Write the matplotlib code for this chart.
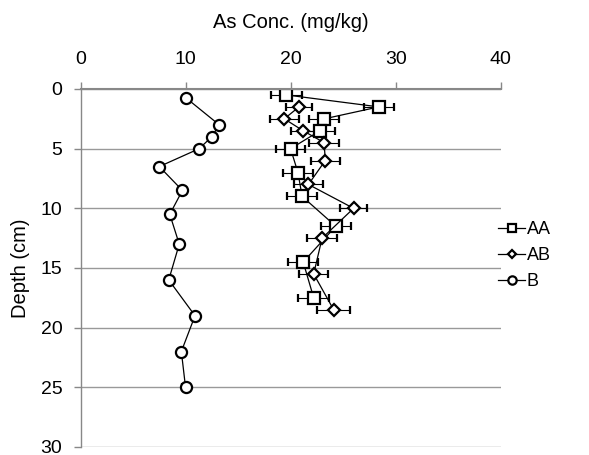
import matplotlib
matplotlib.use("Agg")
import matplotlib.pyplot as plt

plt.rcParams['font.family'] = ['Liberation Sans', 'DejaVu Sans']

# As concentration (mg/kg) vs depth (cm)
aa_depth = [0.5, 1.5, 2.5, 3.5, 5, 7, 9, 11.5, 14.5, 17.5]
aa_conc = [19.6, 28.4, 23.2, 22.8, 20.0, 20.7, 21.1, 24.3, 21.2, 22.2]
aa_err = [1.45, 1.45, 1.45, 1.45, 1.4, 1.43, 1.43, 1.43, 1.42, 1.48]

ab_depth = [1.5, 2.5, 3.5, 4.5, 6, 8, 10, 12.5, 15.5, 18.5]
ab_conc = [20.8, 19.4, 21.2, 23.2, 23.3, 21.7, 26.0, 23.0, 22.2, 24.1]
ab_err = [1.27, 1.36, 1.2, 1.4, 1.38, 1.4, 1.3, 1.4, 1.4, 1.55]

b_depth = [0.75, 3, 4, 5, 6.5, 8.5, 10.5, 13, 16, 19, 22, 25]
b_conc = [10.05, 13.2, 12.5, 11.3, 7.5, 9.7, 8.5, 9.4, 8.4, 10.9, 9.6, 10.0]
b_err = [0.3] * 12

fig = plt.figure(figsize=(5.89, 4.55), dpi=100)
ax = fig.add_axes([0.1367, 0.0176, 0.7133, 0.7868])

common = dict(color='black', lw=0.9, mfc='white', mec='black', mew=1.6,
              ecolor='black', elinewidth=0.8, capsize=3, capthick=0.8)
ax.errorbar(aa_conc, aa_depth, xerr=aa_err, marker='s', ms=8, label='AA', **common)
ax.errorbar(ab_conc, ab_depth, xerr=ab_err, marker='D', ms=6, label='AB', **common)
ax.errorbar(b_conc, b_depth, xerr=b_err, marker='o', ms=8, label='B', **common)

fs = 14
ax.set_xlim(0, 40)
ax.set_ylim(30, 0)
ax.set_xticks([0, 10, 20, 30, 40])
ax.set_yticks([0, 5, 10, 15, 20, 25, 30])
ax.xaxis.tick_top()
ax.xaxis.set_label_position('top')
ax.set_xlabel('As Conc. (mg/kg)', fontsize=14.5, labelpad=17)
ax.set_ylabel('Depth (cm)', fontsize=14.5, labelpad=8)
ax.tick_params(axis='both', labelsize=fs, color='#888888', length=5, width=1)
ax.tick_params(axis='x', pad=10)
ax.tick_params(axis='y', pad=8)

ax.yaxis.grid(True, color='#999999', lw=1)
ax.set_axisbelow(True)
for s in ['right', 'bottom']:
    ax.spines[s].set_visible(False)
ax.spines['top'].set_color('#888888')
ax.spines['top'].set_linewidth(1.5)
ax.spines['left'].set_color('#888888')
ax.spines['left'].set_linewidth(1)

handles, labels = ax.get_legend_handles_labels()
handles = [h[0] for h in handles]
ax.legend(handles, labels, loc='center left', bbox_to_anchor=(0.955, 0.535),
          frameon=False, fontsize=13, handlelength=1.5, handletextpad=0.1,
          labelspacing=0.5, markerscale=0.75)

fig.savefig('out.png', dpi=100)
